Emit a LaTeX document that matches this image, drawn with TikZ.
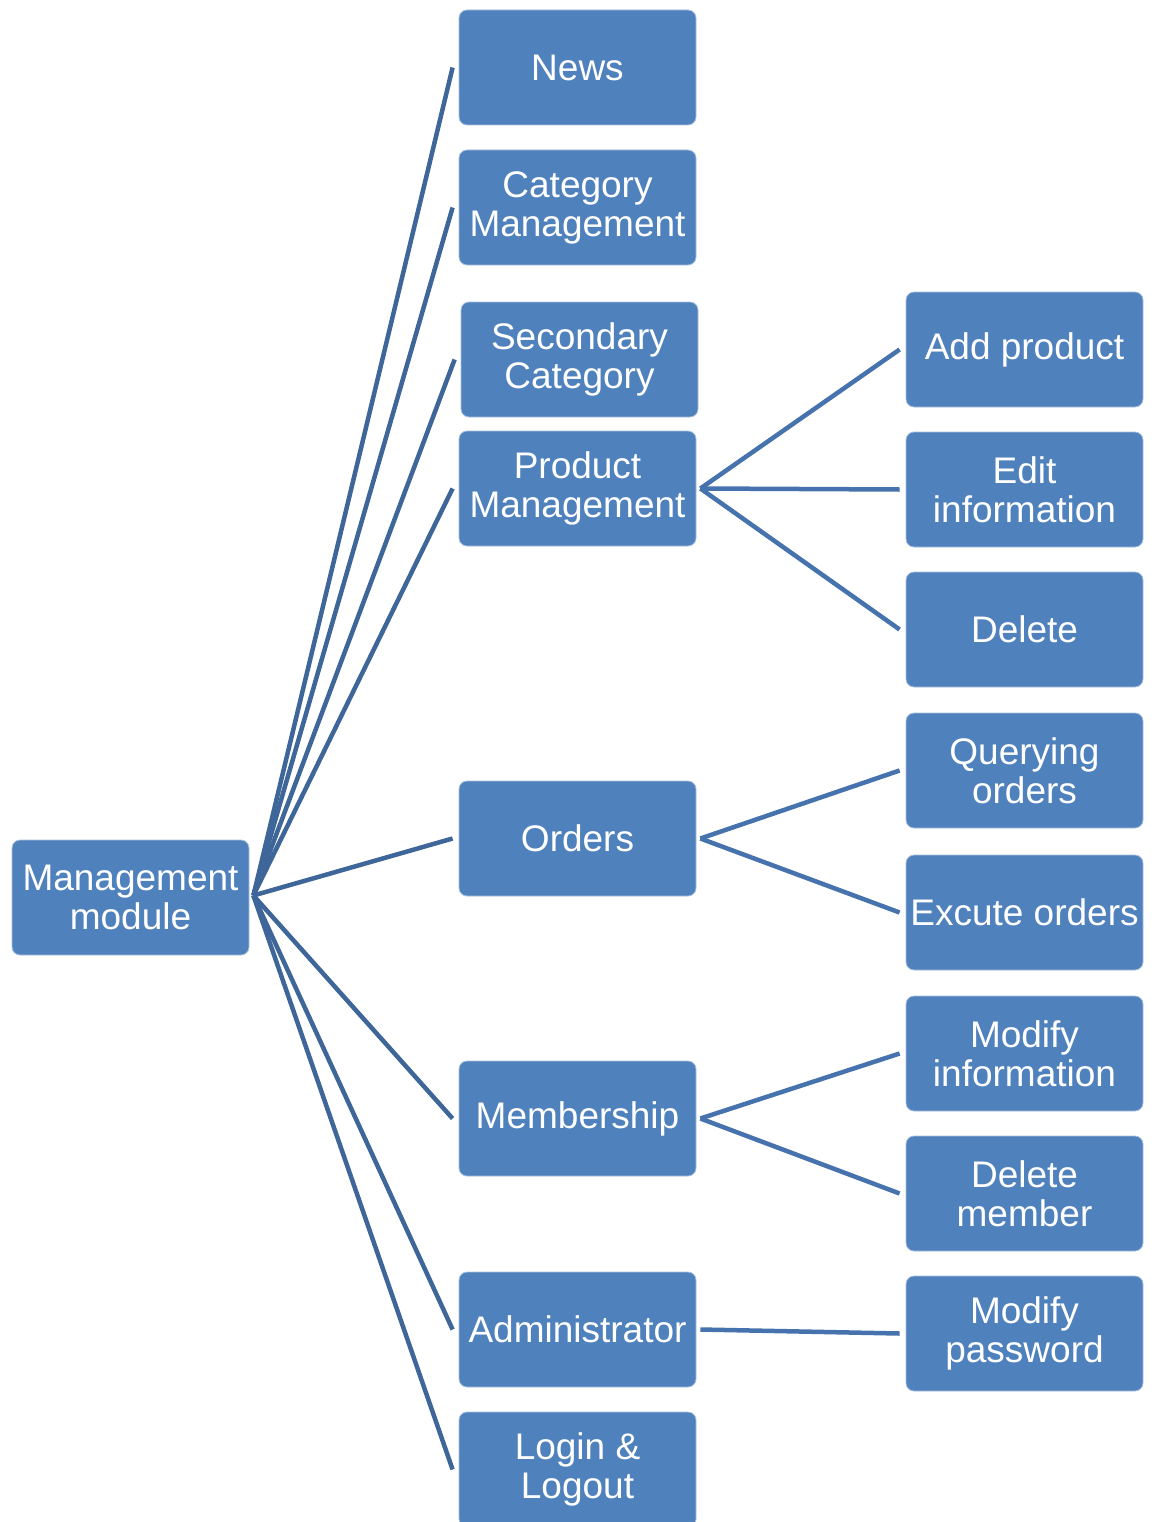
\documentclass[tikz,border=0pt]{standalone}
\usepackage{fontspec}
\setmainfont{Liberation Sans}
\usetikzlibrary{calc}
\definecolor{boxfill}{HTML}{4F81BD}
\definecolor{boxedge}{HTML}{A9C0DE}
\definecolor{lineL}{HTML}{3E6699}
\definecolor{lineR}{HTML}{4672AE}
\begin{document}
\begin{tikzpicture}[x=1pt,y=-1pt,
  box/.style={rectangle, rounded corners=8pt, fill=boxfill, draw=boxedge, line width=0.8pt,
    minimum width=237pt, minimum height=115pt, inner sep=0pt, text=white, align=center,
    font=\fontsize{37}{39}\selectfont},
  linkL/.style={draw=lineL, line width=4.5pt},
  linkR/.style={draw=lineR, line width=4.5pt}]
\useasboundingbox (0,0) rectangle (1154,1522);
% root
\node[box] (root) at (130.5,897.5) {Management\\module};
% second column
\node[box] (news) at (577.5,67.5) {News};
\node[box] (cat) at (577.5,207.5) {Category\\Management};
\node[box] (sec) at (579.5,359.5) {Secondary\\Category};
\node[box] (prod) at (577.5,488.5) {Product\\Management};
\node[box] (ord) at (577.5,838.5) {Orders};
\node[box] (mem) at (577.5,1118.5) {Membership};
\node[box] (adm) at (577.5,1329.5) {Administrator};
\node[box] (log) at (577.5,1469.5) {Login \&\\Logout};
% third column
\node[box] (add) at (1024.5,349.5) {Add product};
\node[box] (edit) at (1024.5,489.5) {Edit\\information};
\node[box] (del) at (1024.5,629.5) {Delete};
\node[box] (qry) at (1024.5,770.5) {Querying\\orders};
\node[box] (exe) at (1024.5,912.5) {Excute orders};
\node[box] (modi) at (1024.5,1053.5) {Modify\\information};
\node[box] (delm) at (1024.5,1193.5) {Delete\\member};
\node[box] (modp) at (1024.5,1333.5) {Modify\\password};
% connector end points
\coordinate (rootR) at ($(root.east)+(4,-2)$);
\foreach \n in {news,cat,sec,prod,ord,mem,adm,log}{
  \coordinate (\n L) at ($(\n.west)+(-6,0)$);
  \coordinate (\n R) at ($(\n.east)+(4,0)$);
}
\foreach \n in {add,edit,del,qry,exe,modi,delm,modp}{
  \coordinate (\n L) at ($(\n.west)+(-6,0)$);
}
% connectors from root
\foreach \n in {news,cat,sec,prod,ord,mem,adm,log}{
  \draw[linkL] (rootR) -- (\n L);
}
% connectors to third column
\draw[linkR] (prodR) -- (addL);
\draw[linkR] (prodR) -- (editL);
\draw[linkR] (prodR) -- (delL);
\draw[linkR] (ordR) -- (qryL);
\draw[linkR] (ordR) -- (exeL);
\draw[linkR] (memR) -- (modiL);
\draw[linkR] (memR) -- (delmL);
\draw[linkR] (admR) -- (modpL);
\end{tikzpicture}
\end{document}
